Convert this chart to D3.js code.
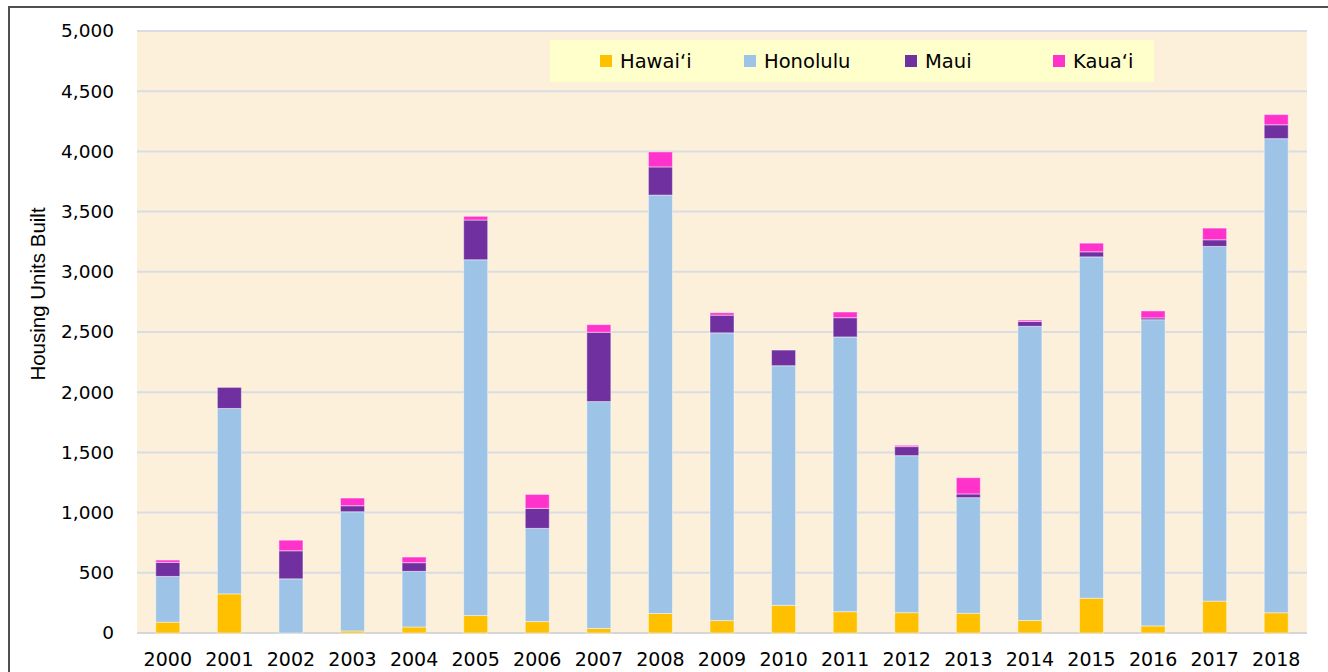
<!DOCTYPE html>
<html>
<head>
<meta charset="utf-8">
<script src="https://cdn.jsdelivr.net/npm/d3@7"></script>
<style>
  body { margin: 0; background: #fff; }
  svg { display: block; }
</style>
</head>
<body>
<svg width="1328" height="672"></svg>
<script>

const years = ['2000', '2001', '2002', '2003', '2004', '2005', '2006', '2007', '2008', '2009',
  '2010', '2011', '2012', '2013', '2014', '2015', '2016', '2017', '2018'];

const hawaii   = [90, 325, 0, 17, 50, 145, 95, 38, 162, 103, 230, 177, 169, 164, 104, 289, 59, 265, 168];
const honolulu = [380, 1540, 450, 990, 462, 2955, 774, 1884, 3475, 2390, 1990, 2282, 1304, 960, 2443, 2835, 2543, 2946, 3938];
const maui     = [117, 175, 233, 50, 72, 330, 166, 576, 234, 147, 130, 160, 75, 31, 40, 42, 15, 55, 115];
const kauai    = [19, 0, 88, 64, 47, 31, 116, 63, 125, 20, 0, 47, 11, 135, 12, 72, 58, 97, 85];

const seriesNames = ['Hawai‘i', 'Honolulu', 'Maui', 'Kaua‘i'];
const seriesColors = ['#FFC000', '#9DC3E6', '#7030A0', '#FF33CC'];
const yTicks = [0, 500, 1000, 1500, 2000, 2500, 3000, 3500, 4000, 4500, 5000];

const keys = ['hawaii', 'honolulu', 'maui', 'kauai'];
const rows = years.map((y, i) => ({
  year: y, hawaii: hawaii[i], honolulu: honolulu[i], maui: maui[i], kauai: kauai[i]
}));

const svg = d3.select('svg');
const plotLeft = 137, plotRight = 1307, plotTop = 31, plotBottom = 633;

// outer frame
svg.append('path')
  .attr('d', `M9,680 L9,7 L1340,7`)
  .attr('fill', 'none')
  .attr('stroke', '#505050')
  .attr('stroke-width', 2);

// plot background
svg.append('rect')
  .attr('x', plotLeft).attr('y', plotTop)
  .attr('width', plotRight - plotLeft).attr('height', plotBottom - plotTop)
  .attr('fill', '#FCF0DB');

const x = d3.scaleBand()
  .domain(years)
  .range([plotLeft, plotRight])
  .paddingInner(0.61)
  .paddingOuter(0.305);

const y = d3.scaleLinear()
  .domain([0, 5000])
  .range([plotBottom, plotTop]);

// gridlines
svg.append('g')
  .selectAll('line')
  .data(yTicks)
  .join('line')
  .attr('x1', plotLeft).attr('x2', plotRight)
  .attr('y1', d => y(d)).attr('y2', d => y(d))
  .attr('stroke', d => d === 0 ? '#D6D6D6' : '#D9DCE3')
  .attr('stroke-width', 2);

const stacked = d3.stack().keys(keys)(rows);

svg.append('g')
  .selectAll('g')
  .data(stacked)
  .join('g')
  .attr('fill', (d, i) => seriesColors[i])
  .selectAll('rect')
  .data(d => d.filter(p => p[1] > p[0]))
  .join('rect')
  .attr('x', d => x(d.data.year))
  .attr('width', x.bandwidth())
  .attr('y', d => y(d[1]))
  .attr('height', d => y(d[0]) - y(d[1]))
  .attr('stroke', 'rgba(255,255,255,0.45)')
  .attr('stroke-width', 1);

// y axis
const yAxis = d3.axisLeft(y)
  .tickValues(yTicks)
  .tickFormat(d3.format(','))
  .tickSize(0)
  .tickPadding(0);

const yG = svg.append('g')
  .attr('transform', `translate(114,0)`)
  .call(yAxis);
yG.select('.domain').remove();
yG.selectAll('text')
  .attr('font-family', 'DejaVu Sans, Verdana, sans-serif')
  .attr('font-size', 18.5)
  .attr('fill', '#000');

// x axis
const xAxis = d3.axisBottom(x).tickSize(0).tickPadding(0);
const xG = svg.append('g')
  .attr('transform', `translate(0,${plotBottom + 19})`)
  .call(xAxis);
xG.select('.domain').remove();
xG.selectAll('text')
  .attr('font-family', 'DejaVu Sans, Verdana, sans-serif')
  .attr('font-size', 19)
  .attr('fill', '#000');

// y title
svg.append('text')
  .attr('transform', `translate(45,294) rotate(-90)`)
  .attr('text-anchor', 'middle')
  .attr('font-family', 'Liberation Sans Narrow, Arial Narrow, sans-serif')
  .attr('font-size', 20.5)
  .attr('fill', '#000')
  .text('Housing Units Built');

// legend
const legend = svg.append('g');
legend.append('rect')
  .attr('x', 550).attr('y', 40)
  .attr('width', 604).attr('height', 42)
  .attr('fill', '#FFFFCC');

const legendX = [600, 744, 905, 1053];
const items = legend.selectAll('g.item')
  .data(seriesNames)
  .join('g')
  .attr('class', 'item')
  .attr('transform', (d, i) => `translate(${legendX[i]},0)`);

items.append('rect')
  .attr('x', 0).attr('y', 55)
  .attr('width', 12).attr('height', 12)
  .attr('fill', (d, i) => seriesColors[i]);

items.append('text')
  .attr('x', 20).attr('y', 68)
  .attr('font-family', 'DejaVu Sans, Verdana, sans-serif')
  .attr('font-size', 19.5)
  .attr('fill', '#000')
  .text(d => d);

</script>
</body>
</html>
